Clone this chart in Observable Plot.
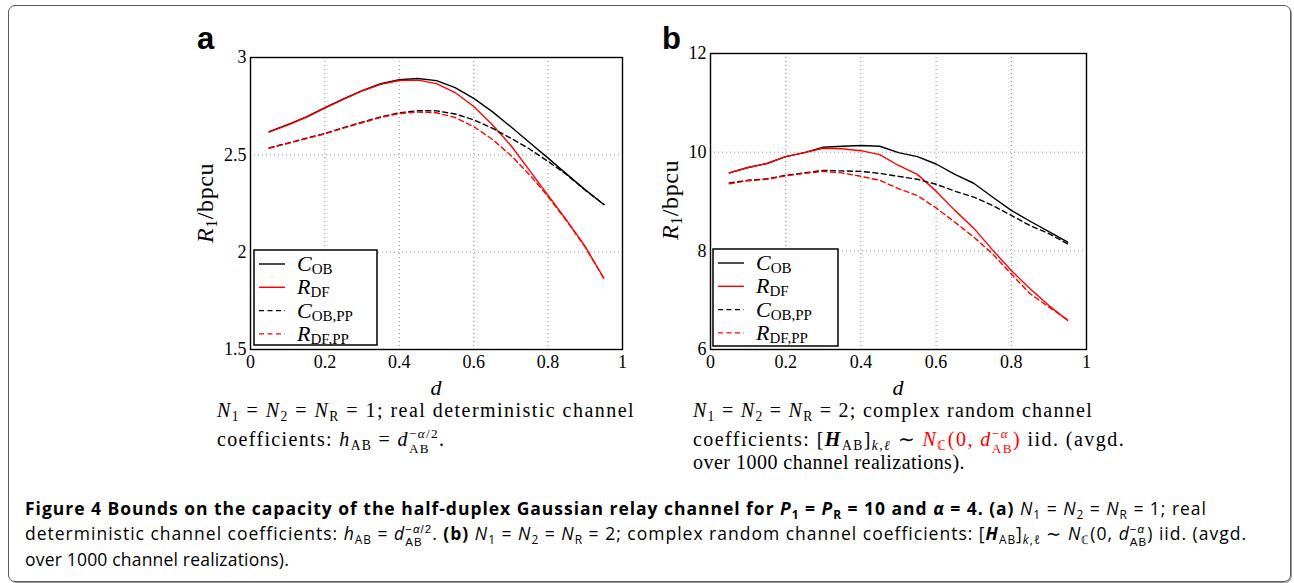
<!DOCTYPE html>
<html><head><meta charset="utf-8">
<script src="https://cdn.jsdelivr.net/npm/d3@7"></script>
<script src="https://cdn.jsdelivr.net/npm/@observablehq/plot@0.6"></script>
<style>
html,body{margin:0;padding:0;background:#fff;}
body{width:1294px;height:583px;position:relative;overflow:hidden;font-family:"Liberation Serif",serif;color:#000;}
.frame{position:absolute;left:8px;top:5px;width:1283px;height:577px;border:1px solid #5a5a5a;border-radius:7px;box-sizing:border-box;box-shadow:1px 1px 0 #9a9a9a;}
.chart{position:absolute;}
.row{position:absolute;white-space:nowrap;line-height:20px;}
.sc{font-family:"Liberation Serif",serif;font-size:20px;}
.cap{font-family:"Open Sans",sans-serif;font-size:17.5px;}
sub,sup{font-size:0.68em;line-height:0;}
sub{vertical-align:-0.3em;}
.ss{display:inline-flex;flex-direction:column;align-items:flex-start;vertical-align:0.62em;font-size:0.66em;line-height:1.14;}
.cap .ss{font-family:"Liberation Sans",sans-serif;}
.red{color:#ff0000;}
#overlay{position:absolute;left:0;top:0;}
</style></head><body>
<div class="frame"></div>
<div id="chartA" class="chart" style="left:180px;top:20px"></div>
<div id="chartB" class="chart" style="left:640px;top:20px"></div>
<svg id="overlay" width="1294" height="583"></svg>

<div class="row sc" data-w="418" style="left:217px;top:400px"><i>N</i><sub>1</sub> = <i>N</i><sub>2</sub> = <i>N</i><sub>R</sub> = 1; real deterministic channel</div>
<div class="row sc" data-w="231" style="left:217px;top:426px">coefficients: <i>h</i><sub>AB</sub> = <i>d</i><span class="ss"><span>−<i>α</i>/2</span><span>AB</span></span>.</div>

<div class="row sc" data-w="400" style="left:693px;top:400px"><i>N</i><sub>1</sub> = <i>N</i><sub>2</sub> = <i>N</i><sub>R</sub> = 2; complex random channel</div>
<div class="row sc" data-w="435" style="left:693px;top:426px">coefficients: [<b><i>H</i></b><sub>AB</sub>]<sub><i>k</i>,<i>ℓ</i></sub> ∼ <span class="red"><i>N</i><sub>ℂ</sub>(0, <i>d</i><span class="ss"><span>−<i>α</i></span><span>AB</span></span>)</span> iid. (avgd.</div>
<div class="row sc" data-w="272" style="left:693px;top:452px">over 1000 channel realizations).</div>

<div class="row cap" data-w="1182" style="left:25px;top:498px"><b>Figure 4 Bounds on the capacity of the half-duplex Gaussian relay channel for <i>P</i><sub>1</sub> = <i>P</i><sub>R</sub> = 10 and <i>α</i> = 4. (a)</b> <i>N</i><sub>1</sub> = <i>N</i><sub>2</sub> = <i>N</i><sub>R</sub> = 1; real</div>
<div class="row cap" data-w="1226" style="left:25px;top:523px">deterministic channel coefficients: <i>h</i><sub>AB</sub> = <i>d</i><span class="ss"><span>−<i>α</i>/2</span><span>AB</span></span>. <b>(b)</b> <i>N</i><sub>1</sub> = <i>N</i><sub>2</sub> = <i>N</i><sub>R</sub> = 2; complex random channel coefficients: [<b><i>H</i></b><sub>AB</sub>]<sub><i>k</i>,<i>ℓ</i></sub> ∼ <i>N</i><sub>ℂ</sub>(0, <i>d</i><span class="ss"><span>−<i>α</i></span><span>AB</span></span>) iid. (avgd.</div>
<div class="row cap" data-w="264" style="left:25px;top:549px">over 1000 channel realizations).</div>

<script>
// ---- data ----
const dValues = [0.05, 0.10, 0.15, 0.20, 0.25, 0.30, 0.35, 0.40, 0.45, 0.50, 0.55, 0.60, 0.65, 0.70, 0.75, 0.80, 0.85, 0.90, 0.95];
const seriesNames = [["C", "OB"], ["R", "DF"], ["C", "OB,PP"], ["R", "DF,PP"]];
const seriesColors = ["#000000", "#ff0000", "#000000", "#ff0000"];
const seriesDashes = [null, null, "5,3.5", "5,3.5"];
const xTicks = [0, 0.2, 0.4, 0.6, 0.8, 1];
const aYTicks = [1.5, 2, 2.5, 3];
const bYTicks = [6, 8, 10, 12];

// panel a: N1=N2=NR=1, real deterministic channel
const aCOB   = [2.619, 2.655, 2.695, 2.742, 2.787, 2.830, 2.865, 2.886, 2.892, 2.881, 2.845, 2.790, 2.722, 2.644, 2.563, 2.483, 2.401, 2.320, 2.245];
const aRDF   = [2.617, 2.653, 2.693, 2.740, 2.785, 2.828, 2.862, 2.882, 2.884, 2.866, 2.820, 2.748, 2.655, 2.548, 2.420, 2.292, 2.163, 2.028, 1.866];
const aCOBPP = [2.536, 2.560, 2.585, 2.610, 2.640, 2.668, 2.695, 2.716, 2.727, 2.726, 2.710, 2.680, 2.637, 2.585, 2.530, 2.466, 2.398, 2.318, 2.245];
const aRDFPP = [2.534, 2.558, 2.583, 2.608, 2.637, 2.665, 2.692, 2.712, 2.720, 2.716, 2.692, 2.645, 2.580, 2.497, 2.398, 2.285, 2.160, 2.025, 1.864];

// panel b: N1=N2=NR=2, complex random channel (avg over 1000 realizations)
const bCOB   = [9.58, 9.69, 9.77, 9.91, 9.99, 10.10, 10.12, 10.135, 10.12, 9.99, 9.91, 9.76, 9.55, 9.37, 9.09, 8.82, 8.60, 8.39, 8.175];
const bRDF   = [9.58, 9.69, 9.77, 9.91, 9.99, 10.08, 10.07, 10.03, 9.95, 9.73, 9.55, 9.21, 8.82, 8.46, 8.02, 7.60, 7.23, 6.89, 6.59];
const bCOBPP = [9.375, 9.43, 9.46, 9.53, 9.58, 9.63, 9.62, 9.61, 9.57, 9.51, 9.45, 9.35, 9.21, 9.09, 8.92, 8.72, 8.51, 8.35, 8.14];
const bRDFPP = [9.36, 9.42, 9.45, 9.52, 9.57, 9.61, 9.58, 9.51, 9.43, 9.26, 9.12, 8.87, 8.58, 8.28, 7.94, 7.53, 7.13, 6.86, 6.60];

function chart(series, yDomain, yTicks, mt, mr) {
  const gx = xTicks.filter(t => t > 0 && t < 1);
  const gy = yTicks.slice(1, -1);
  return Plot.plot({
    width: 460, height: 370,
    marginLeft: 70, marginRight: mr, marginTop: mt, marginBottom: 41,
    style: {fontFamily: '"Liberation Serif", serif', fontSize: "18px", color: "#000", background: "none", overflow: "visible"},
    x: {domain: [0, 1]},
    y: {domain: yDomain},
    marks: [
      Plot.gridX(gx, {stroke: "#8c8c8c", strokeOpacity: 1, strokeDasharray: "1,3"}),
      Plot.gridY(gy, {stroke: "#8c8c8c", strokeOpacity: 1, strokeDasharray: "1,3"}),
      Plot.axisX(xTicks, {tickSize: 0, tickPadding: 6, tickFormat: t => String(t), label: null}),
      Plot.axisY(yTicks, {tickSize: 0, tickPadding: 4, tickFormat: t => String(t), label: null}),
      ...series.map((v, i) => Plot.line(v, {x: dValues, y: v, stroke: seriesColors[i], strokeWidth: 1.4, strokeDasharray: seriesDashes[i]})),
      Plot.frame({stroke: "#000", strokeWidth: 1.4})
    ]
  });
}

document.getElementById("chartA").appendChild(chart([aCOB, aRDF, aCOBPP, aRDFPP], [1.5, 3], aYTicks, 37, 18));
document.getElementById("chartB").appendChild(chart([bCOB, bRDF, bCOBPP, bRDFPP], [6, 12], bYTicks, 33, 14));

// ---- overlay: panel letters, axis labels, legends ----
const ov = d3.select("#overlay");
const serif = '"Liberation Serif", serif';
[["a", 197], ["b", 662]].forEach(([t, x]) => {
  ov.append("text").attr("x", x).attr("y", 49).attr("font-family", '"Liberation Sans", Arial, sans-serif')
    .attr("font-weight", "bold").attr("font-size", 31).text(t);
});
[[213, 203], [678, 200]].forEach(([x, y]) => {
  const t = ov.append("text").attr("transform", `translate(${x},${y}) rotate(-90)`).attr("text-anchor", "middle")
    .attr("font-family", serif).attr("font-size", 24).attr("letter-spacing", 0.6);
  t.append("tspan").attr("font-style", "italic").text("R");
  t.append("tspan").attr("font-size", 16).attr("dy", 4).text("1");
  t.append("tspan").attr("dy", -4).text("/bpcu");
});
[436, 898].forEach(x => {
  ov.append("text").attr("x", x).attr("y", 395).attr("text-anchor", "middle").attr("font-family", serif)
    .attr("font-style", "italic").attr("font-size", 22).text("d");
});
[[254, 250, 123, 95], [713, 249, 125, 97]].forEach(([x, y, w, h]) => {
  const g = ov.append("g").attr("transform", `translate(${x},${y})`);
  g.append("rect").attr("x", 0).attr("y", 0).attr("width", w).attr("height", h)
    .attr("fill", "#fff").attr("stroke", "#000").attr("stroke-width", 1.5);
  seriesNames.forEach(([main, sub], i) => {
    const cy = 14 + i * 23.3;
    g.append("line").attr("x1", 5).attr("x2", 31).attr("y1", cy).attr("y2", cy)
      .attr("stroke", seriesColors[i]).attr("stroke-width", 1.4).attr("stroke-dasharray", seriesDashes[i]);
    const t = g.append("text").attr("x", 43).attr("y", cy + 7).attr("font-family", serif).attr("font-size", 22);
    t.append("tspan").attr("font-style", "italic").text(main);
    t.append("tspan").attr("font-size", 15).attr("dy", 3).text(sub);
  });
});

// fit caption rows to their widths
document.fonts.ready.then(() => {
  document.querySelectorAll("[data-w]").forEach(el => {
    const target = +el.dataset.w;
    const w = el.getBoundingClientRect().width;
    const n = el.textContent.length;
    el.style.letterSpacing = ((target - w) / n) + "px";
  });
});
</script>
</body></html>
